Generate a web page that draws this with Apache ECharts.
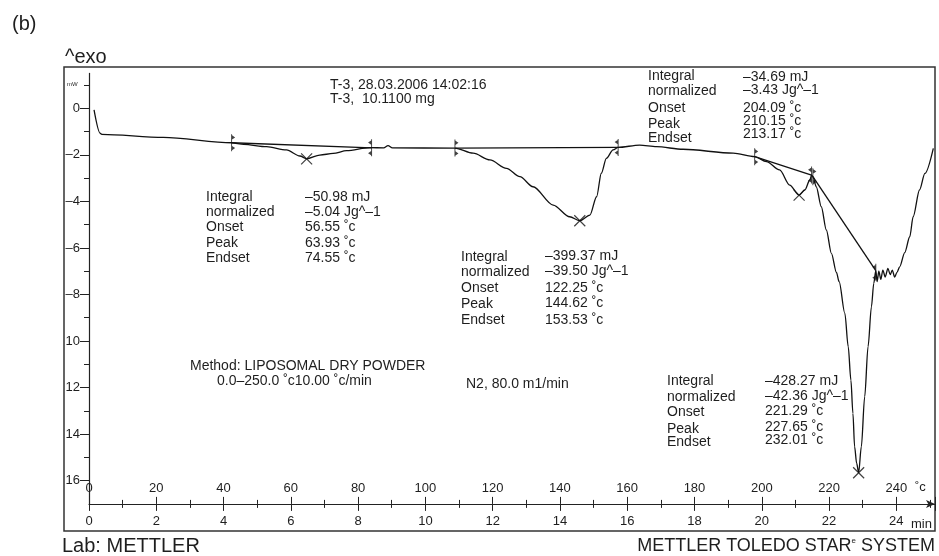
<!DOCTYPE html>
<html>
<head>
<meta charset="utf-8">
<title>DSC T-3</title>
<script src="https://cdn.jsdelivr.net/npm/echarts@6/dist/echarts.min.js"></script>
<style>
html, body { margin: 0; padding: 0; background: #fff; }
#chart { width: 939px; height: 556px; }
</style>
</head>
<body>
<div id="chart"></div>
<script>
// DSC curve: temperature (°C) and heat flow (mW)
var temps = [1.5, 3.3, 3.8, 22.1, 42.4, 46.0, 52.8, 58.7, 62.7, 64.7, 68.6, 72.6, 76.6, 83.5,
    87.6, 88.9, 90.2, 108.8, 114.2, 119.2, 124.1, 128.1, 132.0, 138.0, 142.9, 145.9, 148.9,
    150.9, 152.3, 153.8, 155.8, 157.3, 163.7, 168.7, 176.6, 191.5, 197.9, 201.4, 205.3, 208.3,
    211.1, 212.8, 214.3, 214.8, 215.2, 216.2, 217.7, 219.2, 220.7, 222.2, 223.0, 224.7, 225.7,
    226.5, 227.1, 227.6, 228.2, 228.8, 229.6, 230.6, 231.6, 232.6, 233.3, 233.9, 234.3, 234.8,
    235.4, 236.0, 236.7, 237.5, 238.2, 238.8, 239.5, 240.2, 241.0, 242.5, 244.0, 245.0, 246.9,
    248.5, 251.0];
var heatFlow = [-0.07, -1.07, -1.12, -1.25, -1.48, -1.55, -1.65, -1.79, -2.05, -2.17, -2.01, -1.94, -1.82, -1.69,
    -1.70, -1.60, -1.70, -1.71, -1.93, -2.22, -2.58, -2.94, -3.37, -4.16, -4.66, -4.83, -4.59,
    -3.80, -2.79, -2.15, -1.79, -1.68, -1.58, -1.65, -1.76, -1.93, -2.08, -2.29, -2.65, -3.30,
    -3.73, -3.51, -3.08, -2.87, -2.94, -3.37, -4.23, -5.23, -6.23, -7.05, -7.45, -8.81, -10.24,
    -11.68, -13.11, -14.54, -15.25, -15.66, -14.54, -12.39, -10.24, -8.53, -7.52, -6.98, -7.45, -7.00,
    -7.35, -6.95, -7.25, -6.88, -7.15, -6.95, -7.25, -7.05, -6.81, -6.20, -5.52, -4.66, -3.51,
    -2.80, -1.72];

// integration baselines (start, end)
var base1T = [42.4, 84.0],   base1Y = [-1.48, -1.70];
var base2T = [108.8, 157.3], base2Y = [-1.71, -1.68];
var base3T = [197.9, 214.8], base3Y = [-2.08, -2.87];
var base4T = [215.2, 233.9], base4Y = [-2.94, -6.98];

// integration limits
var onsetT = [42.4, 108.8, 197.9, 215.2];
var onsetY = [-1.48, -1.71, -2.08, -2.94];
var endsetT = [84.0, 157.3, 214.8, 233.9];
var endsetY = [-1.70, -1.68, -2.87, -7.05];

// peak crosses
var peakT = [64.7, 145.9, 211.1, 228.8];
var peakY = [-2.17, -4.83, -3.73, -15.66];

// axis ticks
var yMajor = [0, -2, -4, -6, -8, -10, -12, -14, -16];
var yMinor = [1, -1, -3, -5, -7, -9, -11, -13, -15];

// peak evaluation texts
var rowNames = ['Integral', 'normalized', 'Onset', 'Peak', 'Endset'];
var peak1Vals = ['\u201350.98 mJ', '\u20135.04 Jg^\u20131', '56.55 \u02dac', '63.93 \u02dac', '74.55 \u02dac'];
var peak2Vals = ['\u2013399.37 mJ', '\u201339.50 Jg^\u20131', '122.25 \u02dac', '144.62 \u02dac', '153.53 \u02dac'];
var peak3Vals = ['\u201334.69 mJ', '\u20133.43 Jg^\u20131', '204.09 \u02dac', '210.15 \u02dac', '213.17 \u02dac'];
var peak4Vals = ['\u2013428.27 mJ', '\u201342.36 Jg^\u20131', '221.29 \u02dac', '227.65 \u02dac', '232.01 \u02dac'];

var FONT = '"Liberation Sans", Arial, sans-serif';
var INK = '#1e1e1e';

function pairs(xs, ys) {
    var out = [];
    for (var i = 0; i < xs.length; i++) out.push([xs[i], ys[i]]);
    return out;
}

function txt(x, y, s, size, align) {
    return {
        type: 'text', x: x, y: y, silent: true,
        style: {
            text: s, fontSize: size, fontFamily: FONT, fill: INK,
            align: align || 'left', verticalAlign: 'middle'
        }
    };
}

var blocks = [
    {lx: 206, vx: 305, ly: [197, 212, 227.5, 243, 258], vy: [197, 212, 227.5, 243, 258], vals: peak1Vals},
    {lx: 461, vx: 545, ly: [257, 272, 288, 304, 320], vy: [256, 271, 288, 303, 320], vals: peak2Vals},
    {lx: 648, vx: 743, ly: [75.7, 91, 107.7, 123.7, 137.7], vy: [76.7, 90, 107.7, 121, 134.3], vals: peak3Vals},
    {lx: 667, vx: 765, ly: [381, 396.7, 412.3, 429, 442.3], vy: [381, 395.7, 411, 426.7, 440], vals: peak4Vals}
];

var graphics = [
    {
        type: 'rect', silent: true,
        shape: {x: 64, y: 67, width: 871, height: 464},
        style: {fill: 'none', stroke: '#333', lineWidth: 1.5}
    },
    txt(12, 24, '(b)', 20),
    txt(65, 57, '^exo', 20),
    txt(67, 84, 'mW', 6),
    txt(330, 85, 'T-3, 28.03.2006 14:02:16', 14),
    txt(330, 99.3, 'T-3,  10.1100 mg', 14),
    txt(190, 366.5, 'Method: LIPOSOMAL DRY POWDER', 14),
    txt(217, 381.5, '0.0\u2013250.0 \u02dac10.00 \u02dac/min', 14),
    txt(466, 384, 'N2, 80.0 m1/min', 14),
    txt(915, 487, '\u02dac', 13),
    txt(911, 524, 'min', 13),
    txt(62, 546, 'Lab: METTLER', 20),
    {
        type: 'text', x: 935, y: 546, silent: true,
        style: {
            text: 'METTLER TOLEDO STAR{s|e} SYSTEM', fontSize: 18, fontFamily: FONT, fill: INK,
            align: 'right', verticalAlign: 'middle',
            rich: {s: {fontSize: 8, fontFamily: FONT, fill: INK, verticalAlign: 'top', padding: [0, 0, 8, 0]}}
        }
    }
];
blocks.forEach(function (b) {
    for (var i = 0; i < rowNames.length; i++) {
        graphics.push(txt(b.lx, b.ly[i], rowNames[i], 14));
        graphics.push(txt(b.vx, b.vy[i], b.vals[i], 14));
    }
});

var onsetMark = 'path://M0,0L0.7,0L0.7,16L0,16ZM0.7,1L3,3L0.7,5ZM0.7,11L3,13L0.7,15Z';
var endsetMark = 'path://M2.3,0L3,0L3,16L2.3,16ZM2.3,1L0,3L2.3,5ZM2.3,11L0,13L2.3,15Z';
var crossMark = 'path://M0,0L10,10M10,0L0,10';

var lineStyle = {color: '#111', width: 1.3};

var option = {
    animation: false,
    backgroundColor: '#fff',
    textStyle: {fontFamily: FONT},
    grid: {left: 89, top: 73.4, width: 846, height: 430.5},
    xAxis: [
        {
            type: 'value', min: 0, max: 251.5, interval: 20,
            splitLine: {show: false},
            axisLine: {show: true, onZero: false, lineStyle: {color: '#222', width: 1.2},
                symbol: ['none', 'arrow'], symbolSize: [6, 9]},
            axisTick: {show: true, inside: true, length: 7, lineStyle: {color: '#222'}},
            minorTick: {show: true, splitNumber: 2, length: 4, lineStyle: {color: '#222'}},
            axisLabel: {inside: true, margin: 9, color: INK, fontSize: 13, fontFamily: FONT,
                showMaxLabel: false}
        },
        {
            type: 'value', min: 0, max: 25.15, interval: 2, position: 'bottom',
            splitLine: {show: false},
            axisLine: {show: false, onZero: false},
            axisTick: {show: true, length: 7, lineStyle: {color: '#222'}},
            minorTick: {show: true, splitNumber: 2, length: 4, lineStyle: {color: '#222'}},
            axisLabel: {margin: 11, color: INK, fontSize: 13, fontFamily: FONT, showMaxLabel: false}
        }
    ],
    yAxis: [
        {
            type: 'value', min: -17, max: 1.5,
            splitLine: {show: false},
            axisLine: {show: true, onZero: false, lineStyle: {color: '#222', width: 1.2}},
            axisTick: {show: true, length: 9, customValues: yMajor, lineStyle: {color: '#222'}},
            axisLabel: {
                margin: 9, color: INK, fontSize: 13, fontFamily: FONT, customValues: yMajor,
                formatter: function (v) {
                    if (v === 0) return '0';
                    return v > -10 ? '\u2013' + (-v) : String(-v);
                }
            }
        },
        {
            type: 'value', min: -17, max: 1.5, position: 'left',
            splitLine: {show: false},
            axisLine: {show: false, onZero: false},
            axisTick: {show: true, length: 5, customValues: yMinor, lineStyle: {color: '#222'}},
            axisLabel: {show: false}
        }
    ],
    graphic: graphics,
    series: [
        {
            name: 'DSC', type: 'line', data: pairs(temps, heatFlow),
            showSymbol: false, smooth: 0.3, smoothMonotone: 'x',
            lineStyle: lineStyle, z: 3
        },
        {type: 'line', data: pairs(base1T, base1Y), showSymbol: false, lineStyle: lineStyle},
        {type: 'line', data: pairs(base2T, base2Y), showSymbol: false, lineStyle: lineStyle},
        {type: 'line', data: pairs(base3T, base3Y), showSymbol: false, lineStyle: lineStyle},
        {type: 'line', data: pairs(base4T, base4Y), showSymbol: false, lineStyle: lineStyle},
        {
            type: 'scatter', data: pairs(onsetT, onsetY), symbol: onsetMark, symbolSize: [4, 17],
            symbolOffset: [1.5, 0],
            itemStyle: {color: '#111'}, z: 4
        },
        {
            type: 'scatter', data: pairs(endsetT, endsetY), symbol: endsetMark, symbolSize: [4, 17],
            symbolOffset: [-1.5, 0],
            itemStyle: {color: '#111'}, z: 4
        },
        {
            type: 'scatter', data: pairs(peakT, peakY), symbol: crossMark, symbolSize: 11,
            itemStyle: {color: 'rgba(0,0,0,0)', borderColor: '#111', borderWidth: 1.2}, z: 4
        }
    ]
};

var myChart = echarts.init(document.getElementById('chart'));
myChart.setOption(option);
</script>
</body>
</html>
